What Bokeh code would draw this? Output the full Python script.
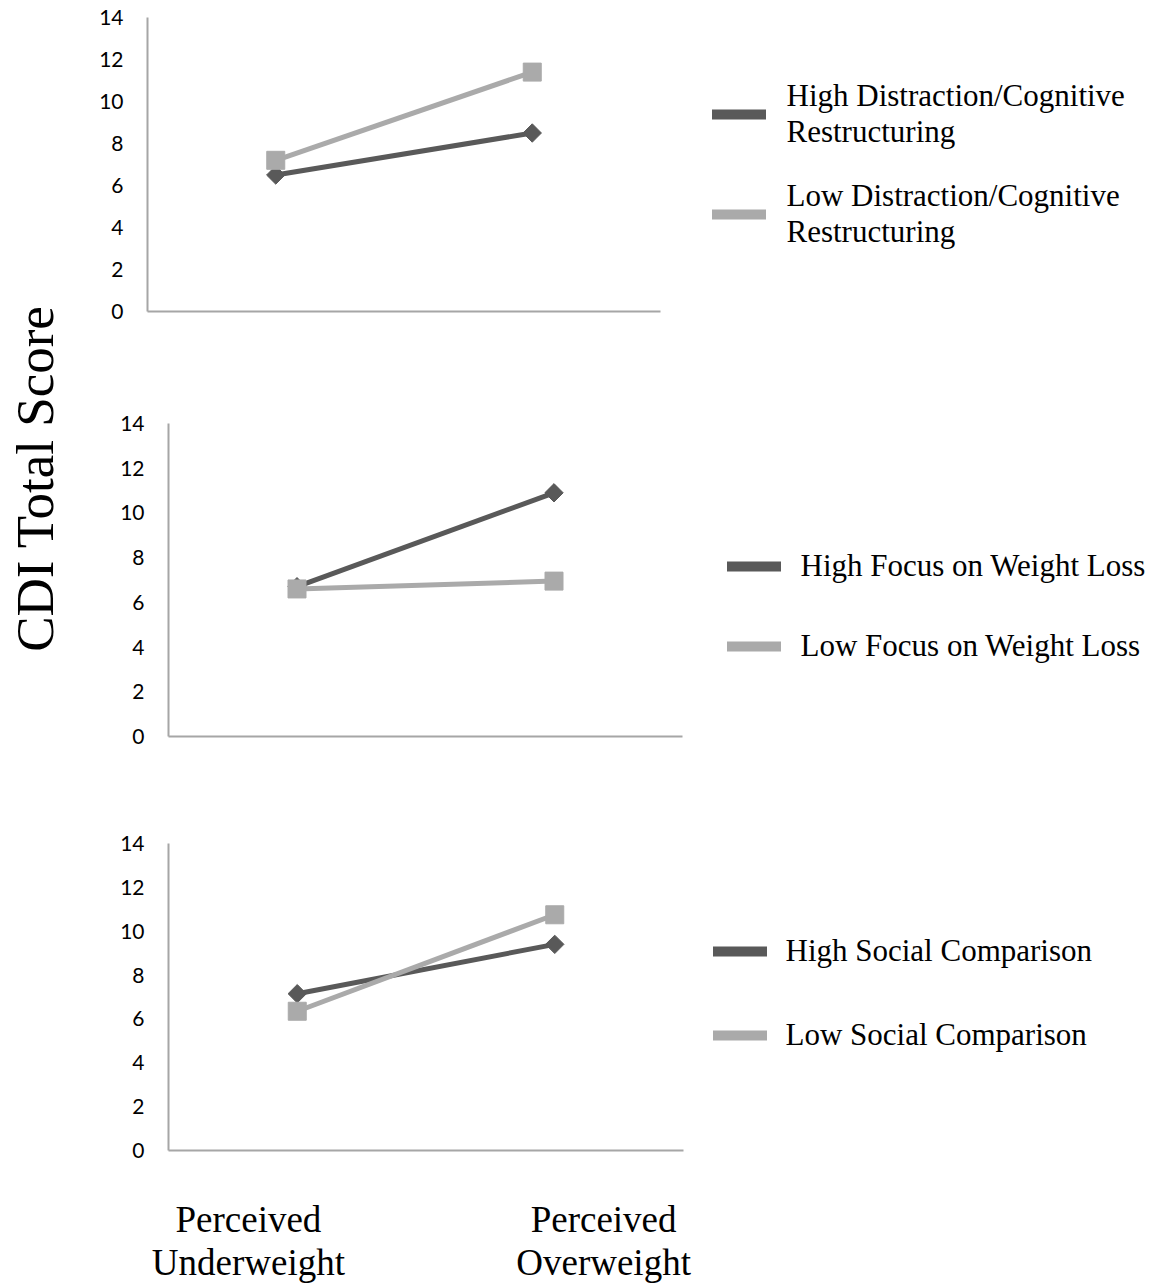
import math
from bokeh.plotting import figure
from bokeh.models import (Range1d, FactorRange, FixedTicker, Legend, LegendItem,
                          Label, CategoricalAxis, CategoricalScale,
                          ColumnDataSource)
from bokeh.layouts import row, column
from bokeh.embed import file_html
from bokeh.resources import INLINE

# ---------------- data ----------------
categories = ["Perceived Underweight", "Perceived Overweight"]
category_labels = ["Perceived\nUnderweight", "Perceived\nOverweight"]
y_ticks = [0, 2, 4, 6, 8, 10, 12, 14]
y_title = "CDI Total Score"

p1_high = [6.5, 8.5]
p1_low = [7.2, 11.4]
p1_labels = ["High Distraction/Cognitive\nRestructuring",
             "Low Distraction/Cognitive\nRestructuring"]

p2_high = [6.7, 10.9]
p2_low = [6.6, 6.95]
p2_labels = ["High Focus on Weight Loss", "Low Focus on Weight Loss"]

p3_high = [7.15, 9.4]
p3_low = [6.35, 10.75]
p3_labels = ["High Social Comparison", "Low Social Comparison"]

# ---------------- style ----------------
DARK = "#595959"
LIGHT = "#aaaaaa"
AXIS = "#a6a6a6"
SERIF = "Liberation Serif"
TICKFONT = "Lato"
LEFT_W = 72


def panel(high, low, labels, frame, borders, legend_loc, glyph_x_standoff,
          spacing, bottom_labels=False):
    fw, fh = frame
    bl, br, bt, bb = borders
    p = figure(frame_width=fw, frame_height=fh,
               x_range=FactorRange(factors=categories, range_padding=0),
               y_range=Range1d(0, 14),
               output_backend="svg", toolbar_location=None,
               min_border_left=bl, min_border_right=br,
               min_border_top=bt, min_border_bottom=bb,
               x_axis_location=None if bottom_labels else "below")
    p.outline_line_color = None
    p.xgrid.visible = False
    p.ygrid.visible = False

    ya = p.yaxis[0]
    ya.ticker = FixedTicker(ticks=y_ticks)
    ya.major_tick_line_color = None
    ya.minor_tick_line_color = None
    ya.axis_line_color = AXIS
    ya.axis_line_width = 2
    ya.major_label_text_font = TICKFONT
    ya.major_label_text_font_size = "21px"
    ya.major_label_text_color = "#000000"
    ya.major_label_standoff = 18

    if bottom_labels:
        p.extra_x_ranges = {"lbl": FactorRange(factors=category_labels,
                                               range_padding=-0.275,
                                               range_padding_units="absolute")}
        p.extra_x_scales = {"lbl": CategoricalScale()}
        xa = CategoricalAxis(x_range_name="lbl")
        xa.major_label_text_font = SERIF
        xa.major_label_text_font_size = "37px"
        xa.major_label_text_color = "#000000"
        xa.major_label_text_line_height = 1.06
        xa.major_label_standoff = 42
        p.add_layout(xa, "below")
    else:
        xa = p.xaxis[0]
        xa.major_label_text_color = None
    xa.major_tick_line_color = None
    xa.minor_tick_line_color = None
    xa.axis_line_color = AXIS
    xa.axis_line_width = 2

    src = ColumnDataSource(data=dict(x=categories, high=high, low=low))
    p.line("x", "high", source=src, line_color=DARK, line_width=5)
    p.scatter("x", "high", source=src, marker="square", angle=math.pi / 4,
              size=13, fill_color=DARK, line_color=DARK)
    p.line("x", "low", source=src, line_color=LIGHT, line_width=5)
    p.scatter("x", "low", source=src, marker="square", size=18,
              fill_color=LIGHT, line_color=LIGHT)

    # legend-only swatches: thick rounded bars with no drawable points
    proxy = ColumnDataSource(data=dict(x=categories,
                                       y=[float("nan")] * len(categories)))
    lh = p.line("x", "y", source=proxy, line_color=DARK,
                line_width=10, line_cap="round", line_join="round")
    ll = p.line("x", "y", source=proxy, line_color=LIGHT,
                line_width=10, line_cap="round", line_join="round")
    legend = Legend(items=[LegendItem(label=labels[0], renderers=[lh]),
                           LegendItem(label=labels[1], renderers=[ll])],
                    location=legend_loc, padding=0, margin=0,
                    border_line_color=None, background_fill_alpha=0,
                    glyph_width=54, glyph_height=36,
                    label_standoff=glyph_x_standoff, spacing=spacing,
                    label_text_font=SERIF, label_text_font_size="31px",
                    label_text_color="#000000", label_text_line_height=1.17)
    p.add_layout(legend, "right")
    return p


f1 = panel(p1_high, p1_low, p1_labels, (513, 294), (75, 60, 17, 49),
           (51.5, 61), 21, 28)
f2 = panel(p2_high, p2_low, p2_labels, (514, 313), (96, 50, 63, 54),
           (44.5, 72), 20, 44)
f3 = panel(p3_high, p3_low, p3_labels, (515, 307), (96, 40, 53, 100),
           (29.5, 97), 19, 48, bottom_labels=True)

total_h = 1270
left = figure(width=LEFT_W, height=total_h, x_range=Range1d(0, 1),
              y_range=Range1d(0, 1), output_backend="svg",
              toolbar_location=None, min_border=0,
              x_axis_location=None, y_axis_location=None)
left.outline_line_color = None
left.xgrid.visible = False
left.ygrid.visible = False
left.add_layout(Label(x=34, y=total_h - 478, x_units="screen", y_units="screen",
                      text=y_title, angle=math.pi / 2, text_align="center",
                      text_baseline="middle", text_font=SERIF,
                      text_font_size="53px", text_color="#000000"))

layout = row(left, column(row(f1), row(f2), row(f3)))
open("out.html", "w").write(file_html(layout, INLINE))
